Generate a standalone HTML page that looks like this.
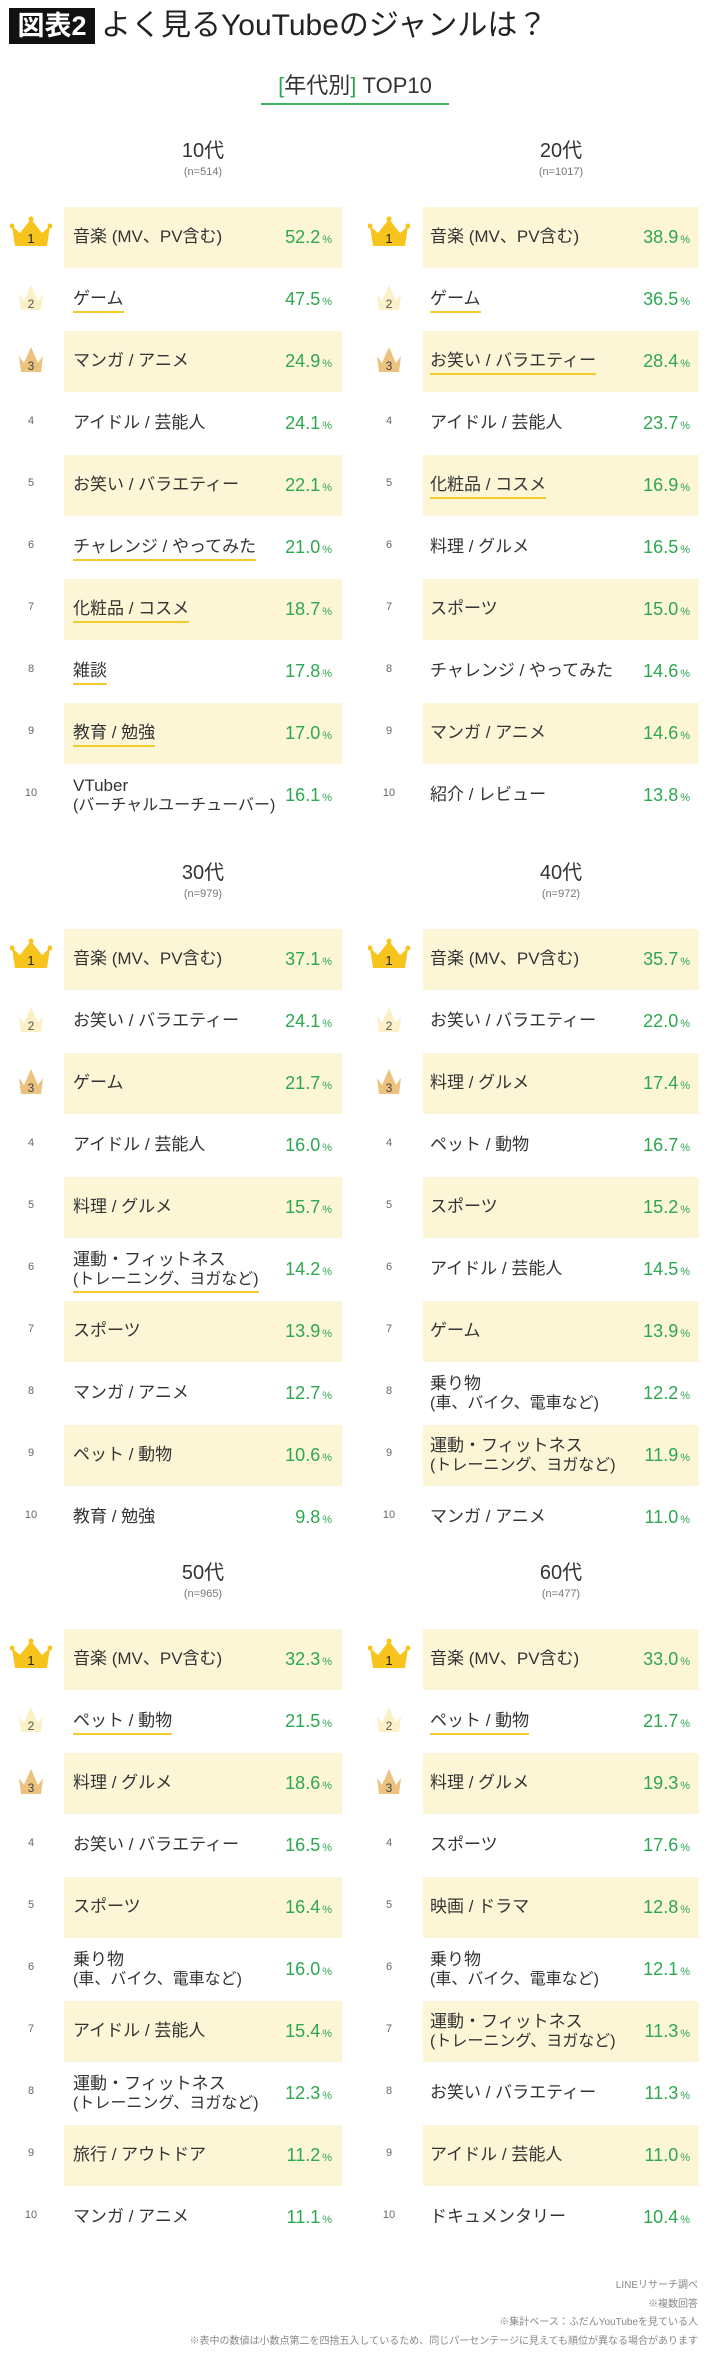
<!DOCTYPE html>
<html lang="ja"><head><meta charset="utf-8">
<style>
html,body{margin:0;padding:0;background:#fff}
body{width:710px;height:2356px;position:relative;overflow:hidden;font-family:"Liberation Sans","Noto Sans CJK JP",sans-serif;color:#333}
.abs{position:absolute}
.box{position:absolute;background:#fcf5d6}
.lbl{position:absolute;font-size:17px;line-height:19px;color:#333;white-space:nowrap}
.lbl .sub{font-size:16px}
.ul{position:absolute;height:2px;background:#f3cb2c}
.pct{position:absolute;text-align:right;white-space:nowrap;color:#2ea84f;font-size:18px;line-height:22px}
.pct small{font-size:11px;margin-left:2px}
.rank{position:absolute;width:30px;text-align:center;font-size:11px;color:#666}
.hdr{position:absolute;width:280px;text-align:center}
</style></head>
<body>
<div class="abs" style="left:9px;top:8px;width:86px;height:36px;background:#111;color:#fff;font-size:27px;line-height:36px;text-align:center;font-weight:bold">図表2</div>
<div class="abs" style="left:101px;top:6px;font-size:30px;line-height:40px;color:#222;white-space:nowrap">よく見るYouTubeのジャンルは？</div>
<div class="abs" style="left:261px;top:72px;width:188px;text-align:center;font-size:22px;line-height:28px;color:#333;white-space:nowrap"><span style="color:#2ea84f">[</span>年代別<span style="color:#2ea84f">]</span> TOP10</div>
<div class="abs" style="left:261px;top:103px;width:188px;height:2px;background:#3db25f"></div>
<div id="root"></div>
<div class="abs" style="right:12px;top:2277px;text-align:right;font-size:10px;line-height:18.5px;color:#888;white-space:nowrap">LINEリサーチ調べ<br>※複数回答<br>※集計ベース：ふだんYouTubeを見ている人<br>※表中の数値は小数点第二を四捨五入しているため、同じパーセンテージに見えても順位が異なる場合があります</div>
<script>
const ageGroups=["10代","20代","30代","40代","50代","60代"];
const sampleSizes=["n=514","n=1017","n=979","n=972","n=965","n=477"];
const labels10=["音楽 (MV、PV含む)","ゲーム","マンガ / アニメ","アイドル / 芸能人","お笑い / バラエティー","チャレンジ / やってみた","化粧品 / コスメ","雑談","教育 / 勉強","VTuber|(バーチャルユーチューバー)"];
const values10=[52.2,47.5,24.9,24.1,22.1,21.0,18.7,17.8,17.0,16.1];
const labels20=["音楽 (MV、PV含む)","ゲーム","お笑い / バラエティー","アイドル / 芸能人","化粧品 / コスメ","料理 / グルメ","スポーツ","チャレンジ / やってみた","マンガ / アニメ","紹介 / レビュー"];
const values20=[38.9,36.5,28.4,23.7,16.9,16.5,15.0,14.6,14.6,13.8];
const labels30=["音楽 (MV、PV含む)","お笑い / バラエティー","ゲーム","アイドル / 芸能人","料理 / グルメ","運動・フィットネス|(トレーニング、ヨガなど)","スポーツ","マンガ / アニメ","ペット / 動物","教育 / 勉強"];
const values30=[37.1,24.1,21.7,16.0,15.7,14.2,13.9,12.7,10.6,9.8];
const labels40=["音楽 (MV、PV含む)","お笑い / バラエティー","料理 / グルメ","ペット / 動物","スポーツ","アイドル / 芸能人","ゲーム","乗り物|(車、バイク、電車など)","運動・フィットネス|(トレーニング、ヨガなど)","マンガ / アニメ"];
const values40=[35.7,22.0,17.4,16.7,15.2,14.5,13.9,12.2,11.9,11.0];
const labels50=["音楽 (MV、PV含む)","ペット / 動物","料理 / グルメ","お笑い / バラエティー","スポーツ","乗り物|(車、バイク、電車など)","アイドル / 芸能人","運動・フィットネス|(トレーニング、ヨガなど)","旅行 / アウトドア","マンガ / アニメ"];
const values50=[32.3,21.5,18.6,16.5,16.4,16.0,15.4,12.3,11.2,11.1];
const labels60=["音楽 (MV、PV含む)","ペット / 動物","料理 / グルメ","スポーツ","映画 / ドラマ","乗り物|(車、バイク、電車など)","運動・フィットネス|(トレーニング、ヨガなど)","お笑い / バラエティー","アイドル / 芸能人","ドキュメンタリー"];
const values60=[33.0,21.7,19.3,17.6,12.8,12.1,11.3,11.3,11.0,10.4];
const underlined10=[2,6,7,8,9];
const underlined20=[2,3,5];
const underlined30=[6];
const underlined40=[];
const underlined50=[2];
const underlined60=[2];

const allLabels=[labels10,labels20,labels30,labels40,labels50,labels60];
const allValues=[values10,values20,values30,values40,values50,values60];
const allUnder=[underlined10,underlined20,underlined30,underlined40,underlined50,underlined60];
const sectionTops=[207,929,1629];
const ROW=62;
const cols=[{box:64,bw:278,lbl:73,pr:332,rank:31},{box:423,bw:276,lbl:430,pr:690,rank:389}];
const root=document.getElementById('root');
const crownColors={1:["#f6c41c","#222"],2:["#fbf0c6","#555"],3:["#ecc27f","#444"]};
function crownSVG(r){
  const big=r===1;const w=big?42:30,h=big?31:28;const c=crownColors[r][0],t=crownColors[r][1];
  const pts=big?"2,10 10,17 21,3 32,17 40,10 37,30 5,30":"3,11 8,18 15,2 22,18 27,11 25,27 5,27";
  return `<svg width="${w}" height="${h}" viewBox="0 0 ${w} ${h}"><polygon points="${pts}" fill="${c}"/>`+
    (big?`<circle cx="2" cy="10" r="2.5" fill="${c}"/><circle cx="21" cy="3" r="2.5" fill="${c}"/><circle cx="40" cy="10" r="2.5" fill="${c}"/>`:"")+
    `<text x="${w/2}" y="${big?27:25}" text-anchor="middle" font-family="Liberation Sans" font-size="${big?13:12}" fill="${t}">${r}</text></svg>`;
}
function add(html,cls,style,name){
  const el=document.createElement('div');
  el.className=cls;el.setAttribute('style',style);el.innerHTML=html;
  
  
  root.appendChild(el);return el;
}
for(let g=0;g<6;g++){
  const col=cols[g%2];const top=sectionTops[Math.floor(g/2)];
  const cx=col.box+col.bw/2;
  add(ageGroups[g],'hdr',`left:${cx-140}px;top:${top-68}px;font-size:20px;line-height:24px;color:#333`,'age-group-title');
  add('('+sampleSizes[g]+')','hdr',`left:${cx-140}px;top:${top-42}px;font-size:11px;line-height:14px;color:#777`,'sample-size');
  const labs=allLabels[g],vals=allValues[g];
  for(let i=0;i<labs.length;i++){
    const y=top+i*ROW;const r=i+1;const mid=y+ROW/2;
    if(r%2===1) add('','box',`left:${col.box}px;top:${y}px;width:${col.bw}px;height:${ROW-1}px`,'row-highlight');
    if(r<=3){
      const big=r===1;
      add(crownSVG(r),'abs',`left:${col.rank-(big?21:15)}px;top:${mid-(big?22:17)}px;line-height:0`,'rank-crown-'+r);
    } else {
      add(String(r),'rank',`left:${col.rank-15}px;top:${mid-9}px`,'rank-number');
    }
    const parts=labs[i].split('|');
    let html=parts[0];
    if(parts.length>1) html+='<br><span class="sub">'+parts[1]+'</span>';
    const lt=parts.length>1?mid-20:mid-11;
    const le=add(html,'lbl',`left:${col.lbl}px;top:${lt}px`,'genre-label');
    if(allUnder[g].indexOf(r)>=0){
      const w=le.getBoundingClientRect().width;
      add('','ul',`left:${col.lbl}px;top:${parts.length>1?mid+21:mid+11}px;width:${Math.round(w)}px`,'label-underline');
    }
    add(vals[i].toFixed(1)+'<small>%</small>','pct',`left:${col.pr-100}px;width:100px;top:${mid-12}px`,'percent-value');
  }
}
</script>
</body></html>
